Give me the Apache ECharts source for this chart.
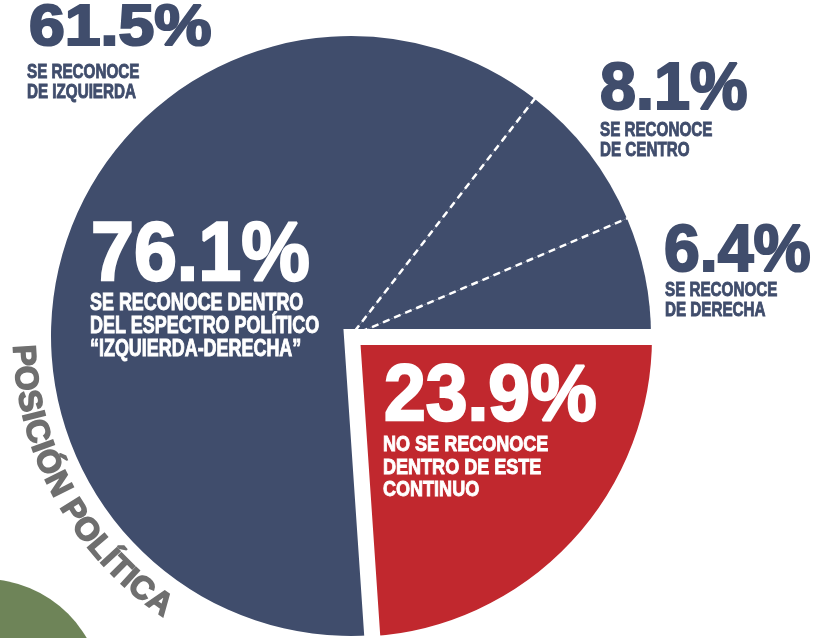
<!DOCTYPE html>
<html>
<head>
<meta charset="utf-8">
<title>Posición política</title>
<script src="https://cdn.jsdelivr.net/npm/echarts@6/dist/echarts.min.js"></script>
<style>
    html, body { margin: 0; padding: 0; background: #fff; }
    #main { width: 833px; height: 638px; }
</style>
</head>
<body>
<div id="main"></div>
<script>
// datos
var categorias = ['NO SE RECONOCE', 'IZQUIERDA', 'CENTRO', 'DERECHA'];
var valores = [23.9, 61.5, 8.1, 6.4];
var espectro = 76.1;
var textos = [
    'NO SE RECONOCE\nDENTRO DE ESTE\nCONTINUO',
    'SE RECONOCE\nDE IZQUIERDA',
    'SE RECONOCE\nDE CENTRO',
    'SE RECONOCE\nDE DERECHA'
];
var textoEspectro = 'SE RECONOCE DENTRO\nDEL ESPECTRO POLÍTICO\n“IZQUIERDA-DERECHA”';
var titulo = 'POSICIÓN POLÍTICA';

var AZUL = '#404d6c', ROJO = '#c1282e', GRIS = '#6f6f6f', VERDE = '#6e8458';
var NADA = 'rgba(0,0,0,0)';
var FUENTE = '"Liberation Sans", Arial, sans-serif';

// texto con trazo del mismo color para que se vea mas grueso
function texto(str, x, yc, size, sx, color, lh, grosor) {
    return {
        type: 'text', x: x, y: yc - lh / 2, scaleX: sx, z: 100, silent: true,
        style: {
            text: str, font: 'bold ' + size + 'px ' + FUENTE, fill: color,
            stroke: color, lineWidth: grosor,
            align: 'left', verticalAlign: 'top', lineHeight: lh
        }
    };
}

function pct(v) { return v.toFixed(1) + '%'; }

var graficos = [];
graficos.push({ type: 'circle', z: 1, silent: true, shape: { cx: -16, cy: 698, r: 119 }, style: { fill: VERDE } });

// cifras y textos
graficos.push(texto(pct(valores[1]), 29, 29, 58, 1.11, AZUL, 60, 2.2));
graficos.push(texto(textos[1], 27, 72.5, 20, 0.76, AZUL, 20, 0.9));
graficos.push(texto(pct(valores[2]), 600, 91, 66, 0.98, AZUL, 68, 2.2));
graficos.push(texto(textos[2], 600, 130, 20, 0.76, AZUL, 20, 0.9));
graficos.push(texto(pct(valores[3]), 664, 252.5, 67, 0.96, AZUL, 68, 2.2));
graficos.push(texto(textos[3], 665, 290, 20, 0.76, AZUL, 20, 0.9));
graficos.push(texto(pct(espectro), 91, 257, 83, 0.93, '#fff', 84, 2.4));
graficos.push(texto(textoEspectro, 90, 303.5, 23, 0.78, '#fff', 23, 0.9));
graficos.push(texto(pct(valores[0]), 384, 398.5, 79, 0.95, '#fff', 80, 2.4));
graficos.push(texto(textos[0], 383, 445, 22, 0.82, '#fff', 22.5, 0.9));

// titulo curvo
(function () {
    var ctx = document.createElement('canvas').getContext('2d');
    var fuente = 'bold 32px ' + FUENTE;
    ctx.font = fuente;
    var cx = 351, cy = 336, R = 329, t0 = 176.6 * Math.PI / 180;
    var chars = titulo.split('');
    var acum = 0, s0 = null;
    chars.forEach(function (c) {
        var w = ctx.measureText(c).width;
        var s = acum + w / 2;
        if (s0 === null) s0 = s;
        acum += w;
        var t = t0 - (s - s0) / R;
        if (c === ' ') return;
        graficos.push({
            type: 'text', z: 100, silent: true,
            x: cx + R * Math.cos(t), y: cy + R * Math.sin(t),
            rotation: -(t - Math.PI / 2),
            style: { text: c, font: fuente, fill: GRIS, stroke: GRIS, lineWidth: 1.6, align: 'center', verticalAlign: 'middle' }
        });
    });
})();

function datos(estilo) {
    return categorias.map(function (c, i) {
        return { name: c, value: valores[i], itemStyle: estilo(i) };
    });
}

var base = {
    type: 'pie', startAngle: 0, clockwise: true, silent: true,
    label: { show: false }, labelLine: { show: false },
    emphasis: { disabled: true }
};

var myChart = echarts.init(document.getElementById('main'));
myChart.setOption({
    animation: false,
    graphic: graficos,
    series: [
        Object.assign({}, base, {
            center: [351, 336], radius: 300,
            data: datos(function () { return { color: AZUL, borderWidth: 0 }; })
        }),
        Object.assign({}, base, {
            center: [351, 336], radius: 306,
            data: datos(function (i) {
                return i === 2
                    ? { color: NADA, borderColor: '#fff', borderWidth: 2.5, borderType: [7, 5] }
                    : { color: NADA, borderWidth: 0 };
            })
        }),
        Object.assign({}, base, {
            center: [352, 337], radius: 308,
            data: datos(function (i) {
                return i === 0
                    ? { color: ROJO, borderColor: '#fff', borderWidth: 16, borderJoin: 'miter', borderMiterLimit: 10 }
                    : { color: NADA, borderWidth: 0 };
            })
        })
    ]
});
</script>
</body>
</html>
